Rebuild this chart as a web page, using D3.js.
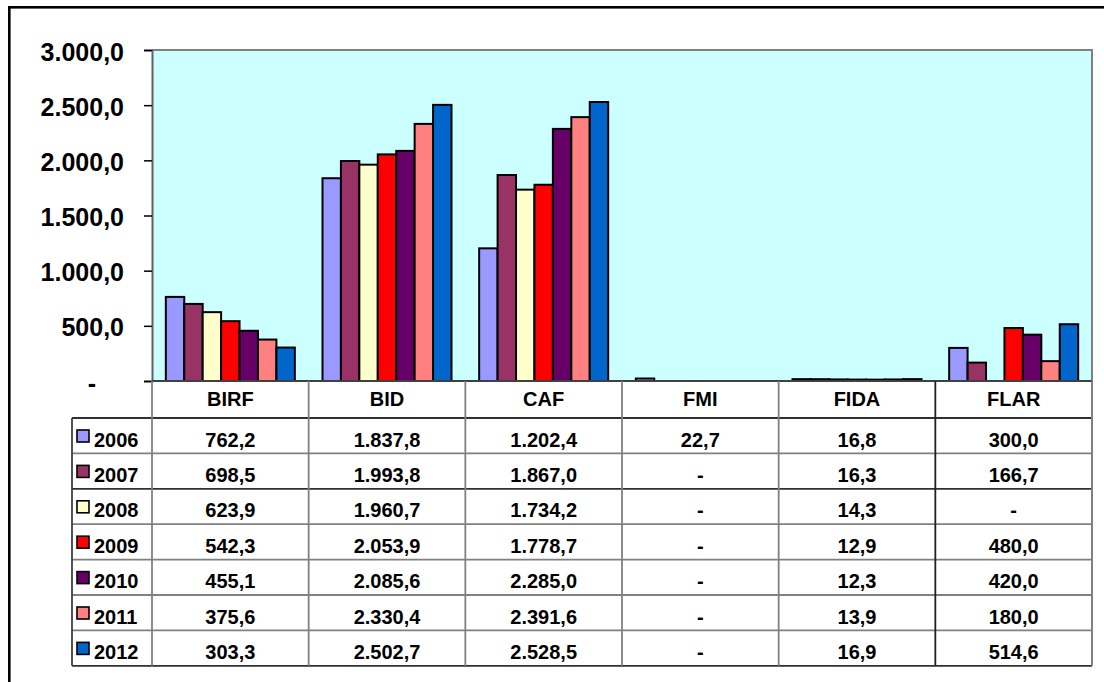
<!DOCTYPE html>
<html><head><meta charset="utf-8">
<script src="https://cdn.jsdelivr.net/npm/d3@7"></script>
<style>
html,body{margin:0;padding:0;background:#fff;}
svg{display:block;font-family:"Liberation Sans",Arial,sans-serif;font-weight:bold;}
</style></head>
<body><svg id="c" width="1104" height="682"></svg>
<script>
const categories = ["BIRF","BID","CAF","FMI","FIDA","FLAR"];
const years = ["2006","2007","2008","2009","2010","2011","2012"];
const colors = ["#9999FF","#993366","#FFFFCC","#FF0000","#660066","#FF8080","#0066CC"];
const v2006 = [762.2,1837.8,1202.4,22.7,16.8,300.0];
const v2007 = [698.5,1993.8,1867.0,null,16.3,166.7];
const v2008 = [623.9,1960.7,1734.2,null,14.3,null];
const v2009 = [542.3,2053.9,1778.7,null,12.9,480.0];
const v2010 = [455.1,2085.6,2285.0,null,12.3,420.0];
const v2011 = [375.6,2330.4,2391.6,null,13.9,180.0];
const v2012 = [303.3,2502.7,2528.5,null,16.9,514.6];
const yTicks = [0,500,1000,1500,2000,2500,3000];

const series = [v2006,v2007,v2008,v2009,v2010,v2011,v2012];
const loc = d3.formatLocale({decimal:",",thousands:".",grouping:[3],currency:["",""]});
const f = loc.format(",.1f");
const fmt = v => (v==null || v===0) ? "-" : f(v);

const svg = d3.select("#c");
const L=152, R=1092, T=50, B=381;
const x = d3.scaleBand().domain(categories).range([L,R]);
const xs = d3.scaleBand().domain(years).range([0,x.bandwidth()]).paddingInner(0).paddingOuter(0.75);
const y = d3.scaleLinear().domain([0,3000]).range([B,T]);

// outer frame
svg.append("rect").attr("x",9.3).attr("y",7.3).attr("width",1200).attr("height",800)
  .attr("fill","none").attr("stroke","#000").attr("stroke-width",2.6);

// plot area
svg.append("rect").attr("x",L).attr("y",T).attr("width",R-L).attr("height",B-T).attr("fill","#CCFFFF");

// bars
years.forEach((yr,i)=>{
  const data = categories.map((c,j)=>({c, v: series[i][j]})).filter(d=>d.v!=null);
  svg.append("g").selectAll("rect").data(data).join("rect")
    .attr("x",d=>x(d.c)+xs(yr)).attr("width",xs.bandwidth())
    .attr("y",d=>y(d.v)).attr("height",d=>y(0)-y(d.v))
    .attr("fill",colors[i]).attr("stroke","#000").attr("stroke-width",2);
});

// plot border top/right
svg.append("path").attr("d",`M${L},${T}H${R}V${B}`).attr("fill","none").attr("stroke","#808080").attr("stroke-width",2);

// y axis
const ax = svg.append("g").attr("transform",`translate(${L},0)`)
  .call(d3.axisLeft(y).tickValues(yTicks).tickSize(8).tickPadding(20).tickFormat(fmt));
ax.select(".domain").attr("stroke","#606060").attr("stroke-width",2);
ax.selectAll(".tick line").attr("stroke","#000").attr("stroke-width",1.5);
ax.selectAll(".tick text").attr("font-size",25).attr("font-weight","bold").attr("fill","#000")
  .attr("font-family","Liberation Sans, Arial, sans-serif").attr("dy","0.4em");
ax.selectAll(".tick text").filter(d=>d===0).attr("text-anchor","middle").attr("x",-60);

// table
const rowH = 35.4, hdrBot = 418, legL = 72;
const rowTop = i => hdrBot + i*rowH;
const tbl = svg.append("g");
const lineC = "#808080";
tbl.selectAll("text.h").data(categories).join("text").attr("class","h")
  .attr("x",d=>x(d)+x.bandwidth()/2).attr("y",406).attr("text-anchor","middle")
  .attr("font-size",20).text(d=>d);
tbl.append("line").attr("x1",L).attr("x2",R).attr("y1",B).attr("y2",B).attr("stroke","#404040").attr("stroke-width",2);
for(let i=0;i<=years.length;i++){
  tbl.append("line").attr("x1",legL).attr("x2",R).attr("y1",rowTop(i)).attr("y2",rowTop(i))
    .attr("stroke", (i===0||i===2||i===years.length)?"#303030":lineC).attr("stroke-width",1.8);
}
categories.forEach((c,j)=>{
  tbl.append("line").attr("x1",x(c)).attr("x2",x(c)).attr("y1",B).attr("y2",rowTop(years.length))
    .attr("stroke", j===5?"#202020":lineC).attr("stroke-width",1.8);
});
tbl.append("line").attr("x1",R).attr("x2",R).attr("y1",B).attr("y2",rowTop(years.length)).attr("stroke",lineC).attr("stroke-width",2);
tbl.append("line").attr("x1",legL).attr("x2",legL).attr("y1",hdrBot).attr("y2",rowTop(years.length)).attr("stroke","#404040").attr("stroke-width",1.8);

years.forEach((yr,i)=>{
  const yb = rowTop(i) + 28.5;
  tbl.append("rect").attr("x",77).attr("y",rowTop(i)+12).attr("width",12).attr("height",12)
    .attr("fill",colors[i]).attr("stroke","#000").attr("stroke-width",1.6);
  tbl.append("text").attr("x",94).attr("y",yb).attr("font-size",20).text(yr);
  tbl.selectAll(null).data(categories).join("text")
    .attr("x",d=>x(d)+x.bandwidth()/2).attr("y",yb).attr("text-anchor","middle")
    .attr("font-size",20).text((d,j)=>fmt(series[i][j]));
});
</script></body></html>
